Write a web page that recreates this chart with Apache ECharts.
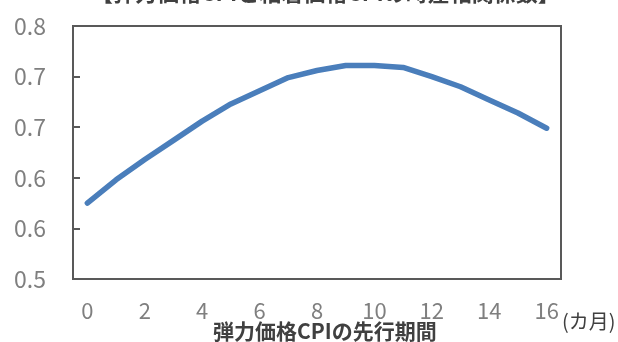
<!DOCTYPE html>
<html><head><meta charset="utf-8">
<script src="https://cdn.jsdelivr.net/npm/echarts@6/dist/echarts.min.js"></script>
<style>html,body{margin:0;padding:0;background:#fff}#c{width:618px;height:342px}</style>
</head><body><div id="c"></div>
<script>
var categories = ['0','1','2','3','4','5','6','7','8','9','10','11','12','13','14','15','16'];
var correlation = [0.575,0.598,0.618,0.637,0.656,0.673,0.686,0.699,0.706,0.711,0.711,0.709,0.700,0.690,0.677,0.664,0.649];
var yTickLabels = ['0.5','0.6','0.6','0.7','0.7','0.8'];
var titleText = '【弾力価格CPIと粘着価格CPIの時差相関係数】';
var xAxisName = '弾力価格CPIの先行期間';
var unitText = '(カ月)';

var font = '"Noto Sans CJK JP", "Noto Sans", sans-serif';
var chart = echarts.init(document.getElementById('c'), null, {renderer:'canvas'});
chart.setOption({
  animation: false,
  title: {
    text: titleText, left: 86, top: -23,
    textStyle: {fontFamily: font, fontSize: 22, fontWeight: 'bold', color: '#404040'}
  },
  grid: {left: 73, right: 57, top: 26, bottom: 63, show: true, borderColor: '#595959', borderWidth: 2, backgroundColor: 'transparent'},
  xAxis: {
    type: 'category', data: categories, boundaryGap: true,
    axisLine: {lineStyle: {color: '#595959', width: 2}},
    axisTick: {inside: true, length: 7, interval: 1, lineStyle: {color: '#595959', width: 2}},
    axisLabel: {interval: 1, margin: 21, color: '#7f7f7f', fontFamily: font, fontSize: 22}
  },
  yAxis: {
    type: 'value', min: 0.5, max: 0.75, interval: 0.05,
    axisLine: {show: true, lineStyle: {color: '#595959', width: 2}},
    axisTick: {show: true, inside: true, length: 7, lineStyle: {color: '#595959', width: 2}},
    splitLine: {show: false},
    axisLabel: {margin: 27, color: '#7f7f7f', fontFamily: font, fontSize: 23,
      formatter: function (v, i) { return yTickLabels[i]; }}
  },
  graphic: [
    {type: 'text', left: 213, top: 321, style: {text: xAxisName, font: 'bold 21px ' + font, fill: '#404040'}},
    {type: 'text', left: 562, top: 311, style: {text: unitText, font: '20px ' + font, fill: '#404040'}}
  ],
  series: [{
    type: 'line', data: correlation, showSymbol: false, smooth: false,
    lineStyle: {color: '#4A7EBB', width: 5.5, cap: 'round', join: 'round'}
  }]
});
</script></body></html>
